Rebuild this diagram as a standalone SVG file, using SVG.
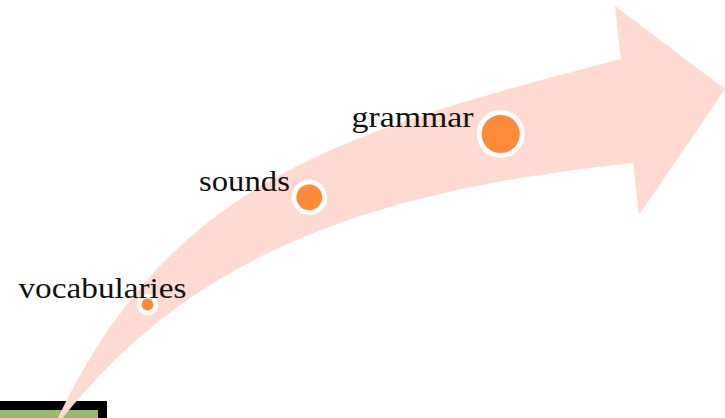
<svg xmlns="http://www.w3.org/2000/svg" width="725" height="418" viewBox="0 0 725 418">
  <style>
    .lbl { font-family: "Liberation Serif", "Times New Roman", serif; font-size: 29px; fill: #111; }
    .dot { fill: #FF8A38; stroke: #FFFFFF; stroke-width: 4.8; }
  </style>
  <rect width="725" height="418" fill="#FFFFFF"/>
  <g id="box">
    <rect x="-20" y="405.5" width="122.5" height="40" fill="#9BBB6B" stroke="#000000" stroke-width="9"/>
  </g>
  <g id="arrow">
    <path d="M 57,420 C 170,184 331,134 621,59 L 615,6 L 725,89 L 639,215 L 633,163 C 354,192 186,262 61,420 Z" fill="#FFDAD0"/>
  </g>
  <g id="vocabularies">
    <circle class="dot" cx="147.5" cy="304.5" r="8.3"/>
    <text class="lbl" x="18.5" y="297.5" textLength="168" lengthAdjust="spacingAndGlyphs">vocabularies</text>
  </g>
  <g id="sounds">
    <circle class="dot" cx="309.3" cy="197.3" r="15.3"/>
    <text class="lbl" x="199" y="190.5" textLength="91" lengthAdjust="spacingAndGlyphs">sounds</text>
  </g>
  <g id="grammar">
    <circle class="dot" cx="500.7" cy="134" r="21.5"/>
    <text class="lbl" x="351.5" y="127" textLength="122" lengthAdjust="spacingAndGlyphs">grammar</text>
  </g>
</svg>
